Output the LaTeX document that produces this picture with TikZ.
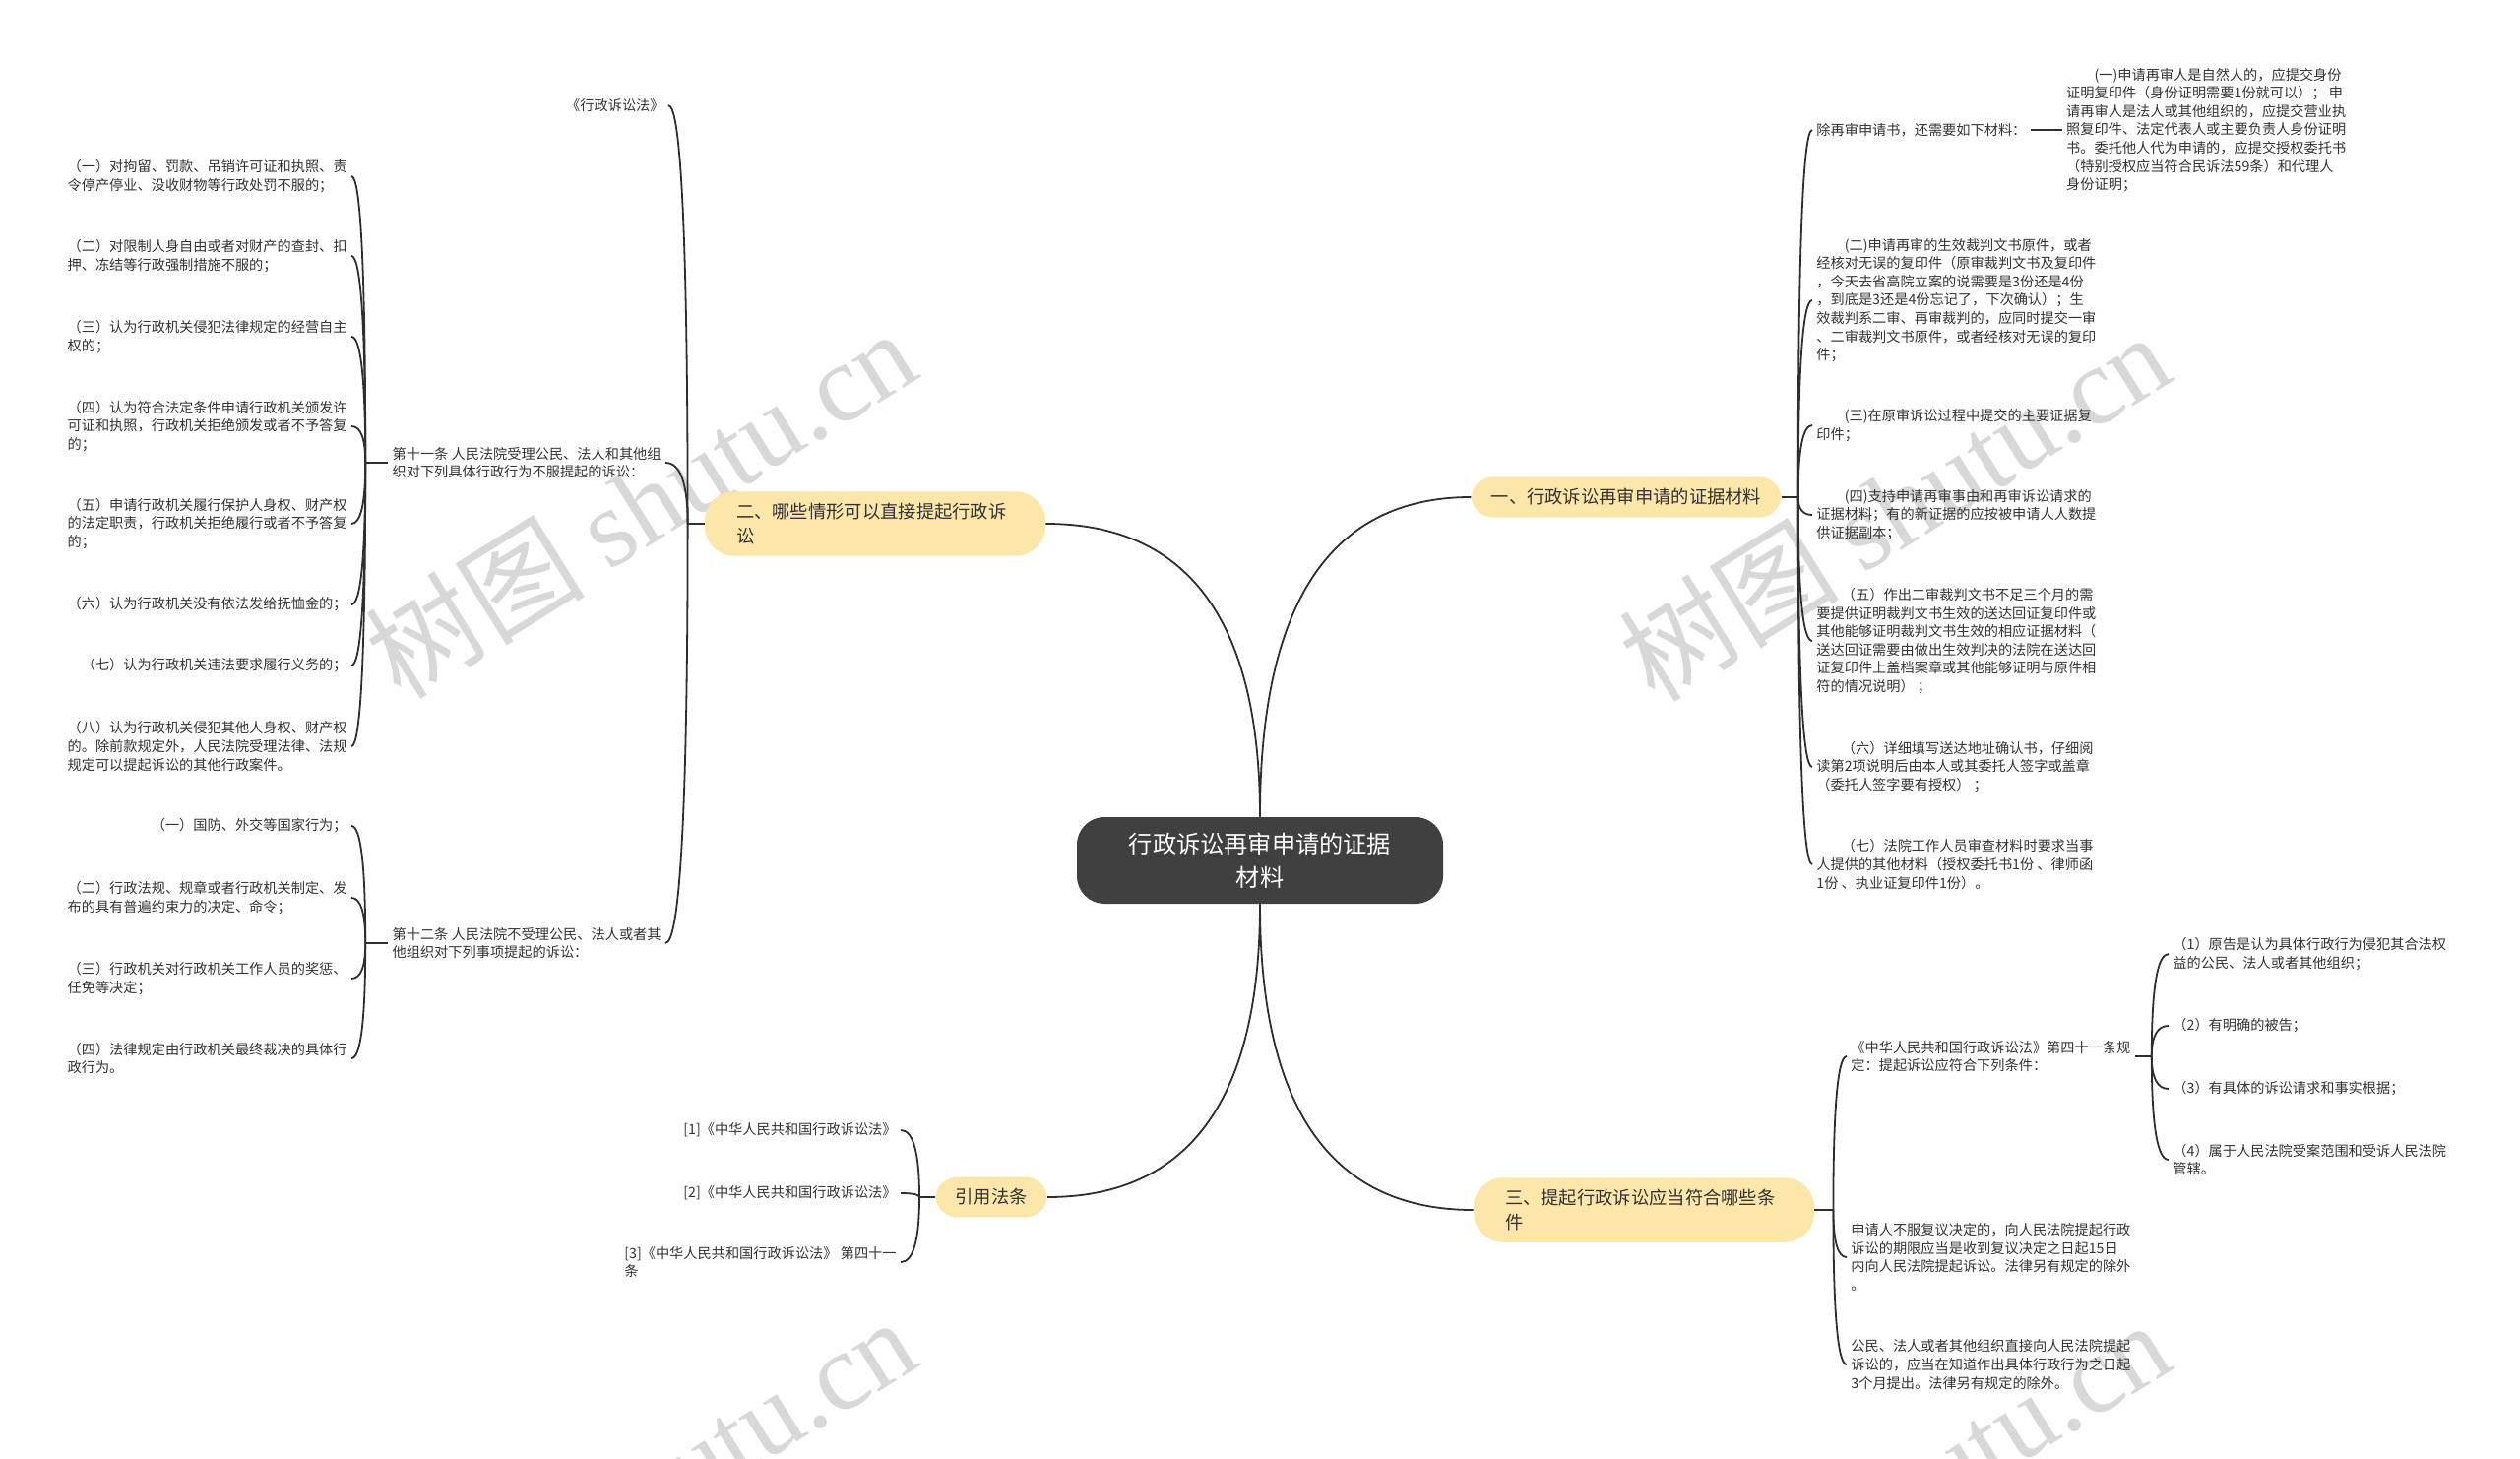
\documentclass[tikz,border=0pt]{standalone}
\usepackage{fontspec}
\setmainfont{Noto Sans CJK SC}
\newfontfamily\wmlatin{Liberation Serif}
\usetikzlibrary{positioning,calc}
\definecolor{rootgray}{HTML}{404040}
\definecolor{topicyellow}{HTML}{FDE6A9}
\definecolor{inkgray}{HTML}{333333}
\definecolor{linkgray}{HTML}{2E2E2E}
\definecolor{markgray}{HTML}{D8D8D8}

\begin{document}
\begin{tikzpicture}[x=0.5pt,y=-0.5pt,
  leaf/.style={font=\fontsize{7.1pt}{9.3pt}\selectfont,align=left,inner sep=2pt,text=inkgray},
  topic/.style={fill=topicyellow,rounded corners=11pt,inner xsep=10pt,inner ysep=6pt,font=\fontsize{9.15pt}{12.25pt}\selectfont,text=inkgray},
  topictwo/.style={topic,rounded corners=15pt,inner xsep=16pt,text width=141pt,align=left},
  link/.style={draw=linkgray,line width=0.9pt},
  bendto/.style={to path={.. controls ($(\tikztostart)!.667!(\tikztostart|-\tikztotarget)$) and ($(\tikztotarget)!.667!(\tikztostart|-\tikztotarget)$) .. (\tikztotarget)}},
  wmark/.style={rotate=32,text=markgray,font=\fontsize{56pt}{56pt}\selectfont}]
\useasboundingbox (0,0) rectangle (2560,1482);
\fill[white] (0,0) rectangle (2560,1482);

\node[wmark] (wm1) at (650,511) {树图 {\wmlatin shutu.cn}};
\node[wmark] (wm2) at (1924,514) {树图 {\wmlatin shutu.cn}};
\node[wmark] (wm3) at (650,1515) {树图 {\wmlatin shutu.cn}};
\node[wmark] (wm4) at (1924,1518) {树图 {\wmlatin shutu.cn}};

\node[fill=rootgray,text=white,rounded corners=14pt,minimum width=186pt,minimum height=44pt,align=center,font=\fontsize{12.1pt}{17pt}\selectfont] (root) at (1280,874) {行政诉讼再审申请的证据\\材料};

\node[topic] (b1) at (1652,505) {一、行政诉讼再审申请的证据材料};
\node[topictwo] (b2) at (889,532) {二、哪些情形可以直接提起行政诉\\讼};
\node[topictwo] (b3) at (1670,1229) {三、提起行政诉讼应当符合哪些条\\件};
\node[topic] (cite) at (1007,1216) {引用法条};

\draw[link] (root.north) to[bendto] (b1.west);
\draw[link] (root.north) to[bendto] (b2.east);
\draw[link] (root.south) to[bendto] (b3.west);
\draw[link] (root.south) to[bendto] (cite.east);

\node[leaf,anchor=west] (c1) at (1841,132) {除再审申请书，还需要如下材料：};
\node[leaf,right=16pt of c1] (g1) {\hspace*{2em}(一)申请再审人是自然人的，应提交身份\\证明复印件（身份证明需要1份就可以）； 申\\请再审人是法人或其他组织的，应提交营业执\\照复印件、法定代表人或主要负责人身份证明\\书。委托他人代为申请的，应提交授权委托书\\（特别授权应当符合民诉法59条）和代理人\\身份证明；};
\node[leaf,anchor=west] (c2) at (1841,305) {\hspace*{2em}(二)申请再审的生效裁判文书原件，或者\\经核对无误的复印件（原审裁判文书及复印件\\，今天去省高院立案的说需要是3份还是4份\\，到底是3还是4份忘记了，下次确认）；生\\效裁判系二审、再审裁判的，应同时提交一审\\、二审裁判文书原件，或者经核对无误的复印\\件；};
\node[leaf,anchor=west] (c3) at (1841,432) {\hspace*{2em}(三)在原审诉讼过程中提交的主要证据复\\印件；};
\node[leaf,anchor=west] (c4) at (1841,523) {\hspace*{2em}(四)支持申请再审事由和再审诉讼请求的\\证据材料；有的新证据的应按被申请人人数提\\供证据副本；};
\node[leaf,anchor=west] (c5) at (1841,651) {\hspace*{1.8em}（五）作出二审裁判文书不足三个月的需\\要提供证明裁判文书生效的送达回证复印件或\\其他能够证明裁判文书生效的相应证据材料（\\送达回证需要由做出生效判决的法院在送达回\\证复印件上盖档案章或其他能够证明与原件相\\符的情况说明） ；};
\node[leaf,anchor=west] (c6) at (1841,779) {\hspace*{1.8em}（六）详细填写送达地址确认书，仔细阅\\读第2项说明后由本人或其委托人签字或盖章\\（委托人签字要有授权） ；};
\node[leaf,anchor=west] (c7) at (1841,878) {\hspace*{1.8em}（七）法院工作人员审查材料时要求当事\\人提供的其他材料（授权委托书1份 、律师函\\1份 、执业证复印件1份）。};
\coordinate[right=8.5pt of b1] (j1);
\draw[link] (b1.east) -- (j1);
\foreach \i in {1,...,7} \draw[link] (j1) to[bendto] (c\i.west);
\draw[link] (c1.east) -- (g1.west);

\node[leaf,anchor=east] (a1) at (679,107) {《行政诉讼法》};
\node[leaf,anchor=east] (a2) at (676,470) {第十一条 人民法院受理公民、法人和其他组\\织对下列具体行政行为不服提起的诉讼：};
\node[leaf,anchor=east] (a3) at (676,958) {第十二条 人民法院不受理公民、法人或者其\\他组织对下列事项提起的诉讼：};
\coordinate[left=8.5pt of b2] (j2);
\draw[link] (b2.west) -- (j2);
\foreach \i in {1,2,3} \draw[link] (j2) to[bendto] (a\i.east);

\node[leaf,anchor=east] (k1) at (357,179) {（一）对拘留、罚款、吊销许可证和执照、责\\令停产停业、没收财物等行政处罚不服的；};
\node[leaf,anchor=east] (k2) at (357,260) {（二）对限制人身自由或者对财产的查封、扣\\押、冻结等行政强制措施不服的；};
\node[leaf,anchor=east] (k3) at (357,342) {（三）认为行政机关侵犯法律规定的经营自主\\权的；};
\node[leaf,anchor=east] (k4) at (357,433) {（四）认为符合法定条件申请行政机关颁发许\\可证和执照，行政机关拒绝颁发或者不予答复\\的；};
\node[leaf,anchor=east] (k5) at (357,532) {（五）申请行政机关履行保护人身权、财产权\\的法定职责，行政机关拒绝履行或者不予答复\\的；};
\node[leaf,anchor=east] (k6) at (357,614) {（六）认为行政机关没有依法发给抚恤金的；};
\node[leaf,anchor=east] (k7) at (357,676) {（七）认为行政机关违法要求履行义务的；};
\node[leaf,anchor=east] (k8) at (357,758) {（八）认为行政机关侵犯其他人身权、财产权\\的。除前款规定外，人民法院受理法律、法规\\规定可以提起诉讼的其他行政案件。};
\coordinate[left=11.5pt of a2] (j3);
\draw[link] (a2.west) -- (j3);
\foreach \i in {1,...,8} \draw[link] (j3) to[bendto] (k\i.east);

\node[leaf,anchor=east] (m1) at (357,839) {（一）国防、外交等国家行为；};
\node[leaf,anchor=east] (m2) at (357,912) {（二）行政法规、规章或者行政机关制定、发\\布的具有普遍约束力的决定、命令；};
\node[leaf,anchor=east] (m3) at (357,994) {（三）行政机关对行政机关工作人员的奖惩、\\任免等决定；};
\node[leaf,anchor=east] (m4) at (357,1075) {（四）法律规定由行政机关最终裁决的具体行\\政行为。};
\coordinate[left=11.5pt of a3] (j4);
\draw[link] (a3.west) -- (j4);
\foreach \i in {1,...,4} \draw[link] (j4) to[bendto] (m\i.east);

\node[leaf,anchor=east] (r1) at (915,1148) {[1]《中华人民共和国行政诉讼法》};
\node[leaf,anchor=east] (r2) at (915,1212) {[2]《中华人民共和国行政诉讼法》};
\node[leaf,anchor=east] (r3) at (915,1282) {[3]《中华人民共和国行政诉讼法》 第四十一\\条};
\coordinate[left=8pt of cite] (j5);
\draw[link] (cite.west) -- (j5);
\foreach \i in {1,2,3} \draw[link] (j5) to[bendto] (r\i.east);

\node[leaf,anchor=west] (d1) at (1876,1073) {《中华人民共和国行政诉讼法》第四十一条规\\定：提起诉讼应符合下列条件：};
\node[leaf,anchor=west] (d2) at (1876,1277) {申请人不服复议决定的，向人民法院提起行政\\诉讼的期限应当是收到复议决定之日起15日\\内向人民法院提起诉讼。法律另有规定的除外\\。};
\node[leaf,anchor=west] (d3) at (1876,1386) {公民、法人或者其他组织直接向人民法院提起\\诉讼的，应当在知道作出具体行政行为之日起\\3个月提出。法律另有规定的除外。};
\coordinate[right=9.5pt of b3] (j6);
\draw[link] (b3.east) -- (j6);
\foreach \i in {1,2,3} \draw[link] (j6) to[bendto] (d\i.west);

\node[leaf,anchor=west] (e1) at (2203,969) {（1）原告是认为具体行政行为侵犯其合法权\\益的公民、法人或者其他组织；};
\node[leaf,anchor=west] (e2) at (2203,1042) {（2）有明确的被告；};
\node[leaf,anchor=west] (e3) at (2203,1106) {（3）有具体的诉讼请求和事实根据；};
\node[leaf,anchor=west] (e4) at (2203,1178) {（4）属于人民法院受案范围和受诉人民法院\\管辖。};
\coordinate[right=8.5pt of d1] (j7);
\draw[link] (d1.east) -- (j7);
\foreach \i in {1,...,4} \draw[link] (j7) to[bendto] (e\i.west);
\end{tikzpicture}
\end{document}
